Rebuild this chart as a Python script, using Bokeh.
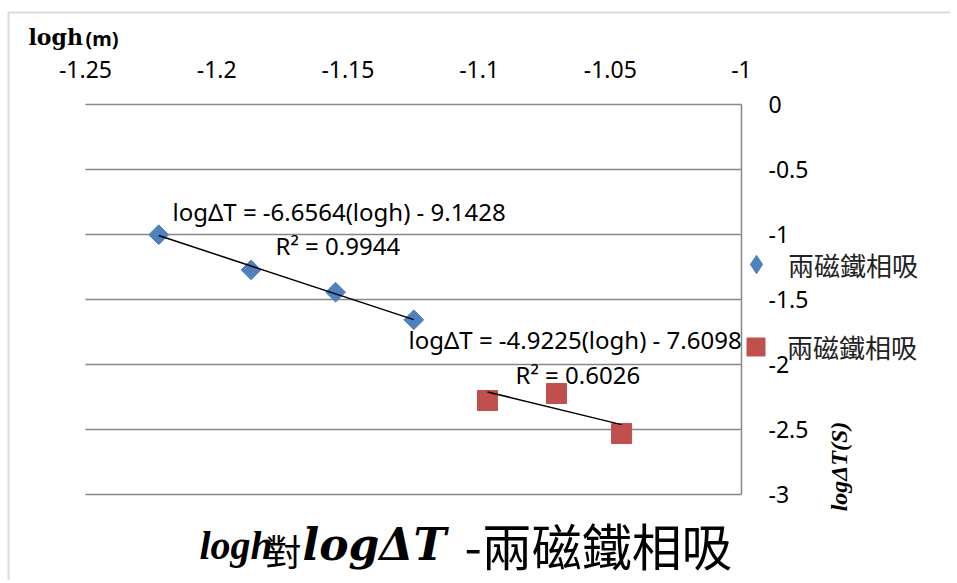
import numpy as np
from bokeh.plotting import figure
from bokeh.models import Range1d, FixedTicker, Label, Legend, LegendItem, BoxAnnotation
from bokeh.embed import file_html
from bokeh.resources import INLINE

# ---------------- data ----------------
series_name = "兩磁鐵相吸"
blue_logh = [-1.2221, -1.1869, -1.1547, -1.1249]
blue_logdt = [-1.002, -1.272, -1.444, -1.656]
red_logh = [-1.0968, -1.0705, -1.0457]
red_logdt = [-2.277, -2.223, -2.531]
fit1_slope, fit1_intercept, fit1_r2 = -6.6564, -9.1428, 0.9944
fit2_slope, fit2_intercept, fit2_r2 = -4.9225, -7.6098, 0.6026
x_ticks = [-1.25, -1.2, -1.15, -1.1, -1.05, -1.0]
x_tick_labels = ["-1.25", "-1.2", "-1.15", "-1.1", "-1.05", "-1"]
y_ticks = [0, -0.5, -1, -1.5, -2, -2.5, -3]
y_tick_labels = ["0", "-0.5", "-1", "-1.5", "-2", "-2.5", "-3"]
x_title_main, x_title_unit = "logh", "(m)"
y_title = "logΔT(S)"
chart_title_parts = ["logh", "對", "logΔT", "-兩磁鐵相吸"]

# ---------------- layout ----------------
W, H = 950, 580
PL, PR, PT, PB = 85, 741, 104, 494   # plot area edges in canvas px
X0, X1, Y0, Y1 = -1.25, -1.0, -3.0, 0.0
BLUE, RED, GRID = "#4F81BD", "#C0504D", "#878787"
sx = (X1 - X0) / (PR - PL)   # data per px
sy = (Y1 - Y0) / (PB - PT)


def px2x(c):
    return X0 + (c - PL) * sx


def py2y(c):
    return Y1 - (c - PT) * sy


def adj(font_px):
    # baseline correction for alphabetic labels (proportional to the font size)
    return -0.375 * font_px


p = figure(width=W, height=H,
           x_range=Range1d(px2x(0), px2x(W)), y_range=Range1d(py2y(H), py2y(0)),
           x_axis_location="above", y_axis_location="right",
           output_backend="svg", toolbar_location=None,
           min_border=0, min_border_left=0, min_border_right=0,
           min_border_top=0, min_border_bottom=0)
p.outline_line_color = None
p.background_fill_color = "white"
p.border_fill_color = "white"
p.xgrid.visible = False
p.ygrid.visible = False

xa = p.xaxis[0]
xa.fixed_location = Y1
xa.bounds = (X0, X1)
xa.ticker = FixedTicker(ticks=x_ticks)
xa.major_label_overrides = dict(zip(x_ticks, x_tick_labels))
xa.axis_line_color = None
xa.major_tick_line_color = None
xa.minor_tick_line_color = None
xa.major_label_text_font = "Noto Sans"
xa.major_label_text_font_size = "23px"
xa.major_label_text_color = "black"
xa.major_label_standoff = 21

ya = p.yaxis[0]
ya.fixed_location = X1
ya.bounds = (Y0, Y1)
ya.ticker = FixedTicker(ticks=y_ticks)
ya.major_label_overrides = dict(zip(y_ticks, y_tick_labels))
ya.axis_line_color = GRID
ya.axis_line_width = 1.5
ya.major_tick_line_color = None
ya.minor_tick_line_color = None
ya.major_label_text_font = "Noto Sans"
ya.major_label_text_font_size = "23px"
ya.major_label_text_color = "black"
ya.major_label_standoff = 21

# horizontal gridlines at the y ticks, across the plot area
p.segment(x0=[X0] * len(y_ticks), y0=y_ticks, x1=[X1] * len(y_ticks), y1=y_ticks,
          line_color=GRID, line_width=1.5)

# outer chart frame
p.add_layout(BoxAnnotation(left=px2x(8), right=px2x(W + 50), top=py2y(12), bottom=py2y(H + 50),
                           fill_alpha=0, line_color=GRID, line_width=2))

r_blue = p.scatter(blue_logh, blue_logdt, marker="square", angle=np.pi / 4, size=14,
                   fill_color=BLUE, line_color=BLUE)
r_red = p.scatter(red_logh, red_logdt, marker="square", size=20,
                  fill_color=RED, line_color=RED)
# hidden diamond renderer, used only for the legend symbol
r_blue_key = p.scatter(blue_logh, blue_logdt, marker="diamond", size=20,
                       fill_color=BLUE, line_color=BLUE, visible=False)

# trendlines
bx = np.array([min(blue_logh), max(blue_logh)])
rx = np.array([min(red_logh), max(red_logh)])
p.line(bx, fit1_slope * bx + fit1_intercept, line_color="black", line_width=1.5)
p.line(rx, fit2_slope * rx + fit2_intercept, line_color="black", line_width=1.5)


def eq_text(a, b):
    sign = "-" if b < 0 else "+"
    return f"logΔT = {a:.4f}(logh) {sign} {abs(b):.4f}"


EQF = "Noto Sans"
for txt, cx, cy in [(eq_text(fit1_slope, fit1_intercept), 172, 220),
                    (f"R² = {fit1_r2:.4f}", 275, 254),
                    (eq_text(fit2_slope, fit2_intercept), 408, 348),
                    (f"R² = {fit2_r2:.4f}", 515, 383)]:
    p.add_layout(Label(x=px2x(cx), y=py2y(cy + adj(24)), text=txt, text_font=EQF,
                       text_font_size="24px", text_color="black",
                       text_baseline="alphabetic", text_align="left"))

# legends
for rend, gw, cy in [(r_blue_key, 46, 264), (r_red, 45, 346)]:
    gh = gw
    cx = 756
    lg = Legend(items=[LegendItem(label=series_name, renderers=[rend])],
                location=(int(cx - gw / 2), int(H - (cy + gh / 2))),
                glyph_width=gw, glyph_height=gh, label_standoff=int(788 - (cx + gw / 2)),
                label_text_font="Noto Sans CJK TC", label_text_font_size="26px",
                label_text_color="#222222", padding=0, margin=0, spacing=0,
                border_line_color=None, background_fill_alpha=0)
    p.add_layout(lg)

# axis titles
p.add_layout(Label(x=px2x(28), y=py2y(45 + adj(22)), text=x_title_main, text_font="DejaVu Serif",
                   text_font_style="bold", text_font_size="22px", text_color="black",
                   text_baseline="alphabetic"))
p.add_layout(Label(x=px2x(85), y=py2y(45 + adj(20)), text=x_title_unit, text_font="Noto Sans",
                   text_font_style="bold", text_font_size="20px", text_color="black",
                   text_baseline="alphabetic"))
p.add_layout(Label(x=px2x(838), y=py2y(466), text=y_title, text_font="Liberation Serif",
                   text_font_style="bold italic", text_font_size="24px", text_color="black",
                   angle=np.pi / 2, text_align="center", text_baseline="middle"))

# chart title (mixed fonts)
p.add_layout(Label(x=px2x(199), y=py2y(560 + adj(40)), text=chart_title_parts[0],
                   text_font="Liberation Serif", text_font_style="bold italic",
                   text_font_size="40px", text_color="black", text_baseline="alphabetic"))
p.add_layout(Label(x=px2x(283), y=py2y(549), text=chart_title_parts[1], text_font="Noto Sans CJK TC",
                   text_font_size="36px", text_color="black",
                   text_align="center", text_baseline="middle"))
p.add_layout(Label(x=px2x(302), y=py2y(560 + adj(44)), text=chart_title_parts[2], text_font="DejaVu Serif",
                   text_font_style="bold italic", text_font_size="44px", text_color="black",
                   text_baseline="alphabetic"))
p.add_layout(Label(x=px2x(464), y=py2y(543), text=chart_title_parts[3], text_font="Noto Sans CJK TC",
                   text_font_size="50px", text_color="black",
                   text_baseline="middle"))

open("out.html", "w").write(file_html(p, INLINE))
